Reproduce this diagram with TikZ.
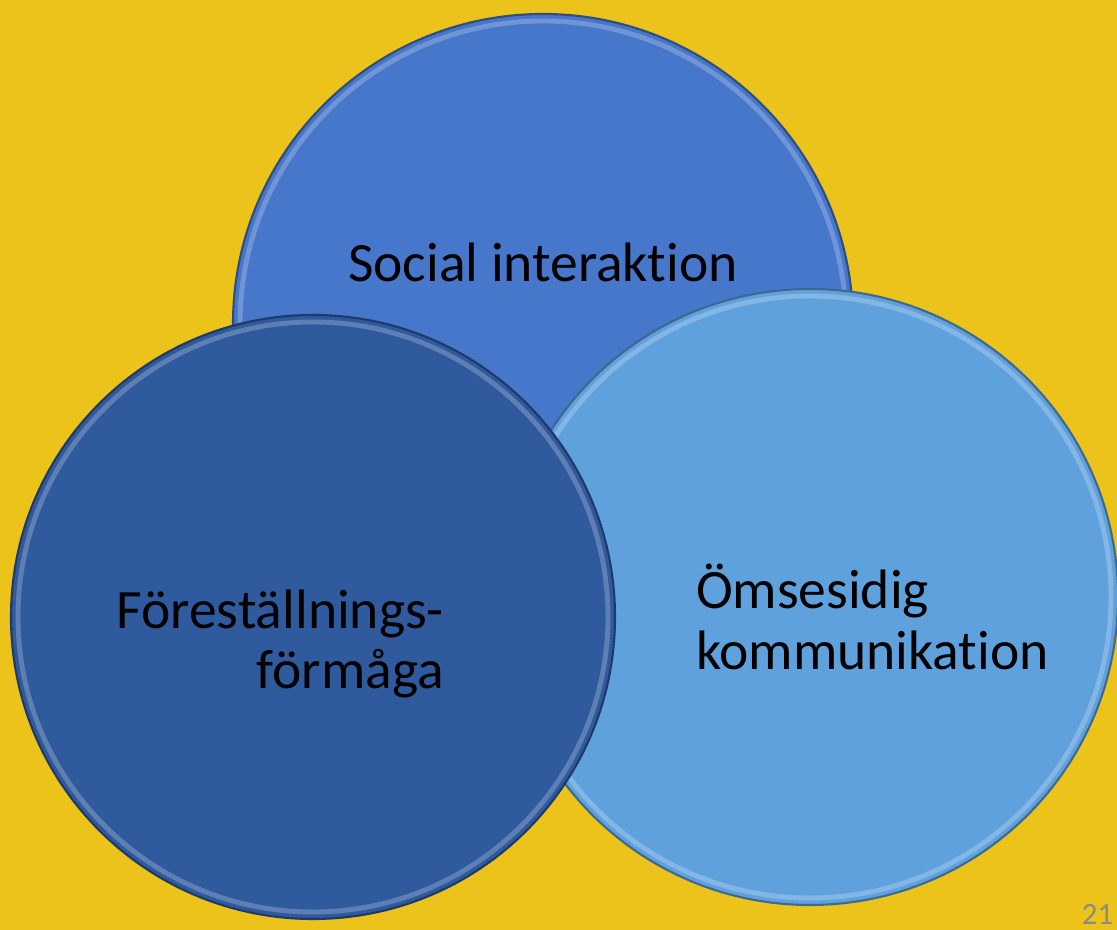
\documentclass[tikz,border=0pt]{standalone}
\usepackage{fontspec}
\setmainfont[Ligatures=NoCommon]{Carlito}
\usepackage{tikz}
\usetikzlibrary{calc, positioning}
\definecolor{bgyellow}{HTML}{EBC31A}
\definecolor{topblue}{HTML}{4677CA}
\definecolor{leftblue}{HTML}{2F5A9D}
\definecolor{rightblue}{HTML}{5FA1DC}
\definecolor{pagegray}{HTML}{8A8A8A}

\begin{document}
\begin{tikzpicture}[% styles used in image code
disc/.style  = {fill=#1, draw=#1!65!black, line width=0.6pt},
rim/.style   = {draw=#1!55!white, line width=1.4pt, opacity=0.5},
label/.style = {font=\fontsize{15.8}{17.2}\selectfont, text=black,
                inner sep=0pt, outer sep=0pt}
                    ]
	% page and background
	\useasboundingbox (0,0) rectangle (11.17,9.30);
	\fill[bgyellow] (0,0) rectangle (11.17,9.30);

	\coordinate (top)   at (5.43,6.06);
	\coordinate (right) at (8.10,3.33);
	\coordinate (left)  at (3.13,3.13);

	% the three circles, back to front
	\draw[disc=topblue]   (top)   circle (3.10);
	\draw[rim=topblue]    (top)   circle (3.03);
	\draw[disc=rightblue] (right) circle (3.08);
	\draw[rim=rightblue]  (right) circle (3.01);
	\draw[disc=leftblue]  (left)  circle (3.02);
	\draw[rim=leftblue]   (left)  circle (2.95);

	% texts
	\node[label] (social) at (5.43,6.68) {Social interaktion};
	\node[label, align=right, anchor=east] (forest) at (4.44,2.86)
		{Föreställnings-\\förmåga};
	\node[label, align=left, anchor=west] (omse) at (6.96,3.13)
		{Ömsesidig\\kommunikation};
	\node[font=\fontsize{8.8}{10}\selectfont, text=pagegray,
	      anchor=south east, inner sep=0pt] (page) at (11.14,0.05) {21};
\end{tikzpicture}
\end{document}
